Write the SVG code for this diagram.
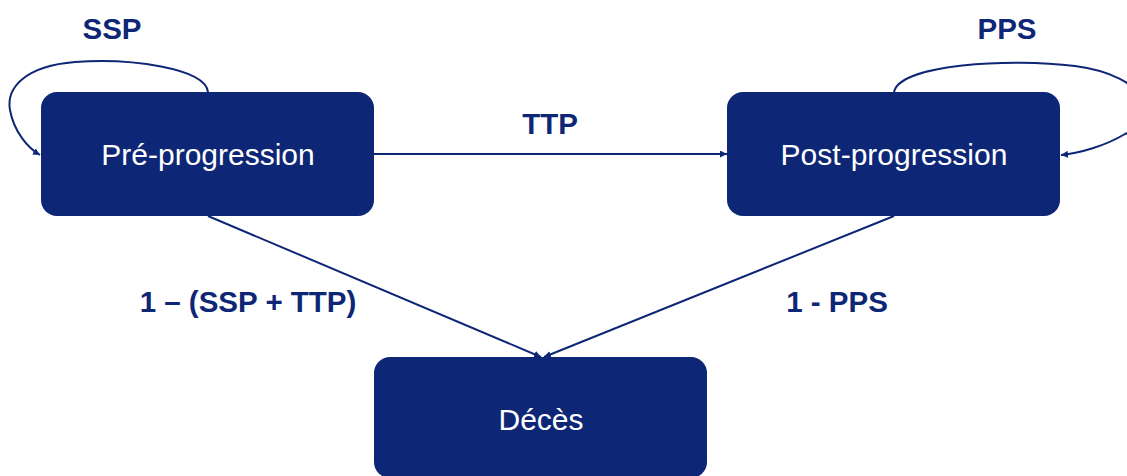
<svg xmlns="http://www.w3.org/2000/svg" width="1127" height="476" viewBox="0 0 1127 476">
  <style>
    .node { fill: #0e2676; }
    .node-label { font-family: "Liberation Sans", Arial, sans-serif; font-size: 30px; fill: #ffffff; text-anchor: middle; }
    .edge { fill: none; stroke: #0e2676; stroke-width: 2; }
    .edge-label { font-family: "Liberation Sans", Arial, sans-serif; font-size: 29.5px; font-weight: bold; fill: #0e2676; text-anchor: middle; }
  </style>
  <defs>
    <marker id="arrow" viewBox="0 0 10 10" refX="10" refY="5" markerWidth="7" markerHeight="7" markerUnits="userSpaceOnUse" orient="auto">
      <path d="M0,0 L10,5 L0,10 z" fill="#0e2676"/>
    </marker>
  </defs>
  <rect width="1127" height="476" fill="#ffffff"/>

  <g id="connectors">
    <!-- SSP self-loop -->
    <path class="edge" marker-end="url(#arrow)" d="M208,92 C205,68 130,58 75,62 C25,66 6,88 10,110 C14,132 28,148 40,155"/>
    <!-- PPS self-loop, running past the right edge -->
    <path class="edge" marker-end="url(#arrow)" d="M894,92 C900,64 1010,58 1075,66 C1150,76 1160,118 1125,134 C1105,146 1080,153 1061,155"/>
    <!-- TTP -->
    <path class="edge" marker-end="url(#arrow)" d="M374,154 L727,154"/>
    <!-- to Décès -->
    <path class="edge" marker-end="url(#arrow)" d="M208,216 L541,357"/>
    <path class="edge" marker-end="url(#arrow)" d="M894,216 L544,357"/>
  </g>

  <g id="edge-labels">
    <text class="edge-label" x="112" y="39">SSP</text>
    <text class="edge-label" x="1007" y="39">PPS</text>
    <text class="edge-label" x="550" y="134">TTP</text>
    <text class="edge-label" x="248" y="312">1 – (SSP + TTP)</text>
    <text class="edge-label" x="837" y="312">1 - PPS</text>
  </g>

  <g id="node-pre">
    <rect class="node" x="41" y="92" width="333" height="124" rx="16"/>
    <text class="node-label" x="208" y="165">Pré-progression</text>
  </g>
  <g id="node-post">
    <rect class="node" x="727" y="92" width="333" height="124" rx="16"/>
    <text class="node-label" x="894" y="165">Post-progression</text>
  </g>
  <g id="node-deces">
    <rect class="node" x="374" y="357" width="333" height="121" rx="16"/>
    <text class="node-label" x="541" y="430">Décès</text>
  </g>
</svg>
